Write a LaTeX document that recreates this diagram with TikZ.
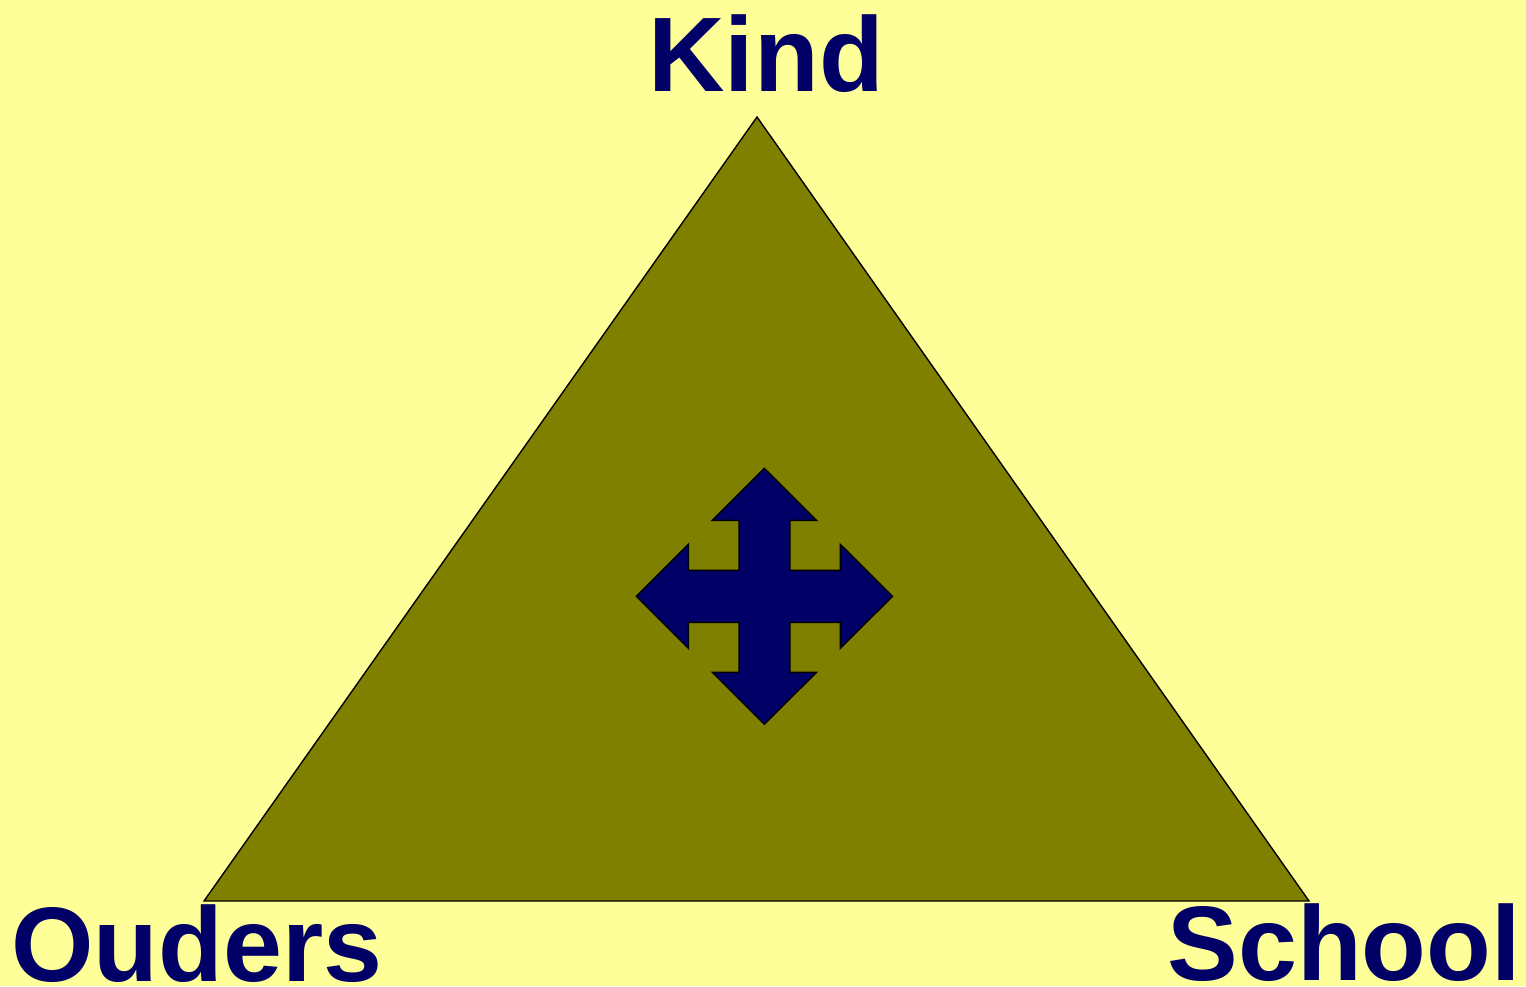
\documentclass[tikz,border=0pt]{standalone}
\usepackage{fontspec}
\setmainfont{Liberation Sans}
\definecolor{bgyellow}{HTML}{FFFF99}
\definecolor{olivefill}{HTML}{808000}
\definecolor{navy}{HTML}{000066}
\begin{document}
\begin{tikzpicture}[x=1pt,y=-1pt,
  lbl/.style={text=navy,font=\fontsize{106}{118}\selectfont\bfseries,inner sep=0pt},
  tri/.style={fill=olivefill,draw=black,line width=1.4pt,line join=miter},
  cross/.style={fill=navy,draw=black,line width=1.4pt,line join=miter}]
\fill[bgyellow] (0,0) rectangle (1526,986);
\useasboundingbox (0,0) rectangle (1526,986);
\coordinate (apex) at (757,117);
\coordinate (bl) at (204,901);
\coordinate (br) at (1309,901);
\draw[tri] (apex) -- (bl) -- (br) -- cycle;
\draw[cross] (764.3,468.3) -- (816.5,520.3) -- (790,520.3) -- (790,570.3)
  -- (840.3,570.3) -- (840.3,544.3) -- (892.5,596.3) -- (840.3,648.3)
  -- (840.3,622.3) -- (790,622.3) -- (790,672.3) -- (816.5,672.3)
  -- (764.3,724.3) -- (712.3,672.3) -- (739,672.3) -- (739,622.3)
  -- (688.3,622.3) -- (688.3,648.3) -- (636.3,596.3) -- (688.3,544.3)
  -- (688.3,570.3) -- (739,570.3) -- (739,520.3) -- (712.3,520.3) -- cycle;
\node[lbl,anchor=base] (kind) at (766,91) {Kind};
\node[lbl,anchor=base west] (ouders) at (11,981) {Ouders};
\node[lbl,anchor=base east] (school) at (1521,980) {School};
\end{tikzpicture}
\end{document}
